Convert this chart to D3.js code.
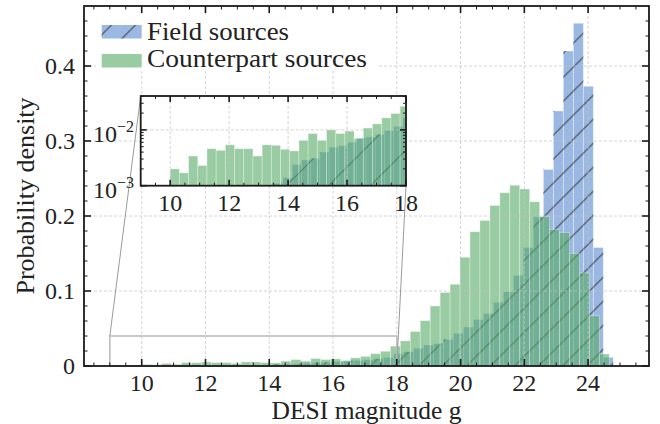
<!DOCTYPE html>
<html>
<head>
<meta charset="utf-8">
<script src="https://cdn.jsdelivr.net/npm/d3@7"></script>
<style>
body { margin: 0; background: #fff; }
svg { display: block; }
text { font-family: "Liberation Serif", "Times New Roman", serif; fill: #222; }
</style>
</head>
<body>
<svg id="chart" width="660" height="424"></svg>
<script>
// histogram bins: start + width, one density per bin
const greenStart = 10.0, greenWidth = 0.312;
const greenDensity = [
    0.0020, 0.0017, 0.0034, 0.0023, 0.0046, 0.0043, 0.0054, 0.0046, 0.0046, 0.0034,
    0.0054, 0.0053, 0.0045, 0.0042, 0.0065, 0.0086, 0.0065, 0.0100, 0.0086, 0.0095,
    0.0070, 0.0108, 0.0128, 0.0164, 0.0197, 0.0265, 0.0335, 0.046, 0.0605, 0.080,
    0.098, 0.109, 0.145, 0.179, 0.194, 0.214, 0.231, 0.241, 0.236, 0.219,
    0.199, 0.182, 0.178, 0.150, 0.124, 0.067, 0.016
];
const blueStart = 9.125, blueWidth = 0.3133;
const blueDensity = [
    0.0001, 0.0001, 0.0001, 0.0002, 0.0002, 0.0002, 0.0003, 0.0003, 0.0004, 0.0005,
    0.0005, 0.0006, 0.0007, 0.0008, 0.0011, 0.0014, 0.0024, 0.0029, 0.0031, 0.0040,
    0.0049, 0.0052, 0.0060, 0.0072, 0.0075, 0.0083, 0.0098, 0.0115, 0.0165, 0.019,
    0.0236, 0.028, 0.030, 0.0356, 0.0436, 0.052, 0.062, 0.070, 0.085, 0.099,
    0.121, 0.158, 0.199, 0.262, 0.340, 0.420, 0.457, 0.373, 0.158, 0.0116
];
const seriesNames = ["Field sources", "Counterpart sources"];
const xTicks = [10, 12, 14, 16, 18, 20, 22, 24];
const yTicks = [0, 0.1, 0.2, 0.3, 0.4];
const yTickLabels = ["0", "0.1", "0.2", "0.3", "0.4"];
const insetXTicks = [10, 12, 14, 16, 18];
const insetYTicks = [1e-3, 1e-2];
const insetYLabels = [["10", "\u22123"], ["10", "\u22122"]];
const zoomBox = { x0: 9, x1: 18, y0: 0, y1: 0.04 };

const blueFill = "rgb(155,184,226)";
const greenFill = "rgb(85,170,100)";
const greenOpacity = 0.6;

const toBins = (start, w, vals) => vals.map((v, i) => ({ x0: start + i * w, x1: start + (i + 1) * w, v }));
const greenBins = toBins(greenStart, greenWidth, greenDensity);
const blueBins = toBins(blueStart, blueWidth, blueDensity);

const svg = d3.select("#chart");
const x = d3.scaleLinear().domain([8.19, 25.91]).range([84, 649]);
const y = d3.scaleLinear().domain([0, 0.48]).range([366, 6]);
const xi = d3.scaleLinear().domain([9, 18]).range([140.7, 406]);
const yi = d3.scaleLog().domain([1e-3, 0.0405]).range([185.7, 96]);

const defs = svg.append("defs");
defs.append("clipPath").attr("id", "clipMain").append("rect")
    .attr("x", 84).attr("y", 6).attr("width", 565).attr("height", 360);
defs.append("clipPath").attr("id", "clipInset").append("rect")
    .attr("x", 140.7).attr("y", 96).attr("width", 265.3).attr("height", 89.7);

function hatch(id, size, shift) {
    defs.append("pattern").attr("id", id)
        .attr("patternUnits", "userSpaceOnUse")
        .attr("width", size).attr("height", size)
        .attr("patternTransform", `translate(${shift},0)`)
        .append("path")
        .attr("d", `M0,${size} L${size},0 M${-size / 4},${size / 4} L${size / 4},${-size / 4} M${size * 0.75},${size * 1.25} L${size * 1.25},${size * 0.75}`)
        .attr("stroke", "#333").attr("stroke-width", 1.1).attr("stroke-opacity", 0.85);
}
hatch("hatchMain", 24, 16.5);
hatch("hatchInset", 42, 10);

// ---------- main panel ----------
const main = svg.append("g").attr("clip-path", "url(#clipMain)");

function drawBars(g, bins, xs, ys, yBase, cls) {
    return g.selectAll("rect." + cls).data(bins.filter(d => ys(d.v) < yBase)).enter()
        .append("rect").attr("class", cls)
        .attr("x", d => xs(d.x0))
        .attr("width", d => xs(d.x1) - xs(d.x0))
        .attr("y", d => ys(d.v))
        .attr("height", d => yBase - ys(d.v));
}

drawBars(main, blueBins, x, y, y(0), "blue")
    .attr("fill", blueFill).attr("stroke", "rgba(255,255,255,0.45)").attr("stroke-width", 0.8);
drawBars(main, blueBins, x, y, y(0), "blueHatch")
    .attr("fill", "url(#hatchMain)");
drawBars(main, greenBins, x, y, y(0), "green")
    .attr("fill", greenFill).attr("fill-opacity", greenOpacity)
    .attr("stroke", "rgba(255,255,255,0.4)").attr("stroke-width", 0.8);

// grid
const grid = svg.append("g").attr("stroke", "#c4c4c4").attr("stroke-width", 0.8)
    .attr("stroke-dasharray", "3,2").attr("opacity", 0.9);
grid.selectAll("line.gx").data(xTicks).enter().append("line")
    .attr("x1", d => x(d)).attr("x2", d => x(d)).attr("y1", y.range()[1]).attr("y2", y.range()[0]);
grid.selectAll("line.gy").data(yTicks.slice(1)).enter().append("line")
    .attr("x1", x.range()[0]).attr("x2", x.range()[1]).attr("y1", d => y(d)).attr("y2", d => y(d));

// zoom indicator + connectors
svg.append("rect")
    .attr("x", x(zoomBox.x0)).attr("y", y(zoomBox.y1))
    .attr("width", x(zoomBox.x1) - x(zoomBox.x0)).attr("height", y(zoomBox.y0) - y(zoomBox.y1))
    .attr("fill", "none").attr("stroke", "#bdbdbd").attr("stroke-width", 1.6);
svg.append("line")
    .attr("x1", x(zoomBox.x0)).attr("y1", y(zoomBox.y1))
    .attr("x2", xi.range()[0]).attr("y2", yi.range()[1])
    .attr("stroke", "#9a9a9a").attr("stroke-width", 1);
svg.append("line")
    .attr("x1", x(zoomBox.x1)).attr("y1", y(zoomBox.y0))
    .attr("x2", xi.range()[1]).attr("y2", yi.range()[0])
    .attr("stroke", "#9a9a9a").attr("stroke-width", 1);

// main ticks
function ticks(g, vals, len, w, isX) {
    vals.forEach(v => {
        if (isX) {
            const px = x(v);
            g.append("line").attr("x1", px).attr("x2", px).attr("y1", y.range()[0]).attr("y2", y.range()[0] - len).attr("stroke-width", w);
            g.append("line").attr("x1", px).attr("x2", px).attr("y1", y.range()[1]).attr("y2", y.range()[1] + len).attr("stroke-width", w);
        } else {
            const py = y(v);
            g.append("line").attr("x1", x.range()[0]).attr("x2", x.range()[0] + len).attr("y1", py).attr("y2", py).attr("stroke-width", w);
            g.append("line").attr("x1", x.range()[1]).attr("x2", x.range()[1] - len).attr("y1", py).attr("y2", py).attr("stroke-width", w);
        }
    });
}
const tk = svg.append("g").attr("stroke", "#1a1a1a");
ticks(tk, d3.range(17, 52).map(k => k / 2).filter(v => v % 2 !== 0), 3.5, 1, true);
ticks(tk, xTicks, 7, 1.6, true);
ticks(tk, d3.range(1, 24).map(k => k * 0.02).filter(v => Math.abs(v * 10 - Math.round(v * 10)) > 1e-6), 3.5, 1, false);
ticks(tk, yTicks, 7, 1.6, false);

svg.append("rect")
    .attr("x", x.range()[0]).attr("y", y.range()[1])
    .attr("width", x.range()[1] - x.range()[0]).attr("height", y.range()[0] - y.range()[1])
    .attr("fill", "none").attr("stroke", "#1a1a1a").attr("stroke-width", 1.8);

svg.selectAll("text.xt").data(xTicks).enter().append("text")
    .attr("x", d => x(d)).attr("y", 390.5).attr("text-anchor", "middle")
    .attr("font-size", 24).text(d => d);
svg.selectAll("text.yt").data(yTicks).enter().append("text")
    .attr("x", 75).attr("y", d => y(d) + 8).attr("text-anchor", "end")
    .attr("font-size", 24).text((d, i) => yTickLabels[i]);

svg.append("text").attr("x", (x.range()[0] + x.range()[1]) / 2).attr("y", 418.5)
    .attr("text-anchor", "middle").attr("font-size", 25.5).text("DESI magnitude g");
svg.append("text").attr("transform", "translate(34,196) rotate(-90)")
    .attr("text-anchor", "middle").attr("font-size", 26).text("Probability density");

// ---------- inset ----------
const [ix0, ix1] = xi.range();
const [iyb, iyt] = yi.range();
svg.append("rect").attr("x", ix0).attr("y", iyt).attr("width", ix1 - ix0).attr("height", iyb - iyt).attr("fill", "#fff");

const ig = svg.append("g").attr("clip-path", "url(#clipInset)");
const yClip = v => yi(Math.min(v, yi.domain()[1]));
drawBars(ig, blueBins.filter(d => d.v > 1e-3), xi, yClip, iyb, "iblue")
    .attr("fill", blueFill).attr("stroke", "rgba(255,255,255,0.45)").attr("stroke-width", 0.8);
drawBars(ig, blueBins.filter(d => d.v > 1e-3), xi, yClip, iyb, "iblueHatch")
    .attr("fill", "url(#hatchInset)");
drawBars(ig, greenBins.filter(d => d.v > 1e-3), xi, yClip, iyb, "igreen")
    .attr("fill", greenFill).attr("fill-opacity", greenOpacity)
    .attr("stroke", "rgba(255,255,255,0.4)").attr("stroke-width", 0.8);

const igrid = svg.append("g").attr("stroke", "#c4c4c4").attr("stroke-width", 0.8)
    .attr("stroke-dasharray", "3,2").attr("opacity", 0.9);
igrid.selectAll("line.a").data(insetXTicks.slice(0, -1)).enter().append("line")
    .attr("x1", d => xi(d)).attr("x2", d => xi(d)).attr("y1", iyt).attr("y2", iyb);
igrid.append("line").attr("x1", ix0).attr("x2", ix1).attr("y1", yi(1e-2)).attr("y2", yi(1e-2));

const itk = svg.append("g").attr("stroke", "#1a1a1a");
function iTicksX(vals, len, w) {
    vals.forEach(v => {
        itk.append("line").attr("x1", xi(v)).attr("x2", xi(v)).attr("y1", iyb).attr("y2", iyb - len).attr("stroke-width", w);
        itk.append("line").attr("x1", xi(v)).attr("x2", xi(v)).attr("y1", iyt).attr("y2", iyt + len).attr("stroke-width", w);
    });
}
function iTicksY(vals, len, w) {
    vals.forEach(v => {
        itk.append("line").attr("x1", ix0).attr("x2", ix0 + len).attr("y1", yi(v)).attr("y2", yi(v)).attr("stroke-width", w);
        itk.append("line").attr("x1", ix1).attr("x2", ix1 - len).attr("y1", yi(v)).attr("y2", yi(v)).attr("stroke-width", w);
    });
}
iTicksX(d3.range(19, 36).map(k => k / 2).filter(v => v % 2 !== 0), 3, 1);
iTicksX(insetXTicks, 6, 1.6);
iTicksY([2e-3, 3e-3, 4e-3, 5e-3, 6e-3, 7e-3, 8e-3, 9e-3, 2e-2, 3e-2, 4e-2], 3, 1);
iTicksY(insetYTicks, 6, 1.6);

svg.append("rect").attr("x", ix0).attr("y", iyt).attr("width", ix1 - ix0).attr("height", iyb - iyt)
    .attr("fill", "none").attr("stroke", "#1a1a1a").attr("stroke-width", 1.8);

svg.selectAll("text.ixt").data(insetXTicks).enter().append("text")
    .attr("x", d => xi(d)).attr("y", 210.5).attr("text-anchor", "middle")
    .attr("font-size", 24).text(d => d);
insetYTicks.forEach((v, i) => {
    const t = svg.append("text").attr("x", 134).attr("y", yi(v) + 12).attr("text-anchor", "end").attr("font-size", 24);
    t.append("tspan").text(insetYLabels[i][0]);
    t.append("tspan").attr("font-size", 16).attr("dy", -10).text(insetYLabels[i][1]);
});

// ---------- legend ----------
const legendWidths = [142, 220];
const lg = svg.append("g");
lg.append("rect").attr("x", 96).attr("y", 15).attr("width", 282).attr("height", 56).attr("fill", "#fff");
lg.append("rect").attr("x", 101.7).attr("y", 25).attr("width", 40).attr("height", 13.5).attr("fill", blueFill);
lg.append("rect").attr("x", 101.7).attr("y", 25).attr("width", 40).attr("height", 13.5).attr("fill", "url(#hatchMain)");
lg.append("rect").attr("x", 101.7).attr("y", 54).attr("width", 40).attr("height", 13.5)
    .attr("fill", greenFill).attr("fill-opacity", greenOpacity);
lg.selectAll("text").data(seriesNames).enter().append("text")
    .attr("x", 147).attr("y", (d, i) => 39.8 + i * 27.4)
    .attr("font-size", 24.6)
    .attr("textLength", (d, i) => legendWidths[i]).attr("lengthAdjust", "spacingAndGlyphs")
    .text(d => d);
</script>
</body>
</html>
